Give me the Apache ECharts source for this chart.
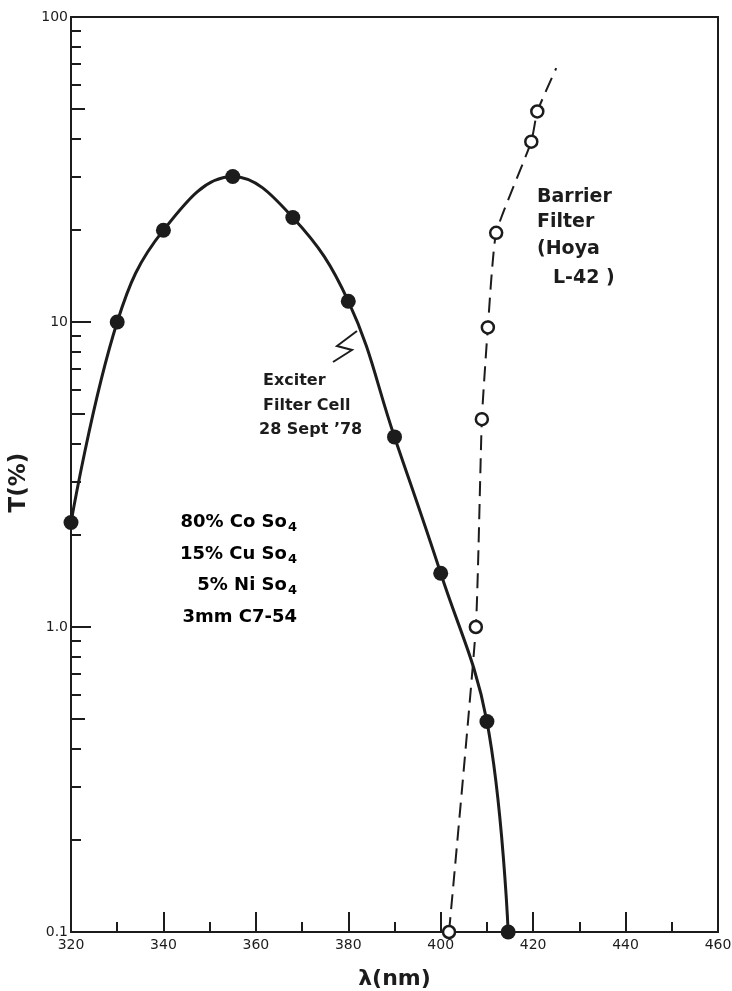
<!DOCTYPE html>
<html>
<head>
<meta charset="utf-8">
<script src="https://cdn.jsdelivr.net/npm/echarts@6/dist/echarts.min.js"></script>
<style>
  html, body { margin: 0; background: #fff; }
  #chart { width: 732px; height: 991px; }
</style>
</head>
<body>
<div id="chart"></div>
<script>
// exciter filter cell (filled dots)
const exciterNm = [320, 330, 340, 355, 368, 380, 390, 400, 410, 414.6];
const exciterT = [2.2, 10, 20, 30, 22, 11.7, 4.2, 1.5, 0.49, 0.1];
// barrier filter Hoya L-42 (open circles), last point is line end only
const barrierNm = [401.8, 407.6, 408.9, 410.2, 412, 419.6, 420.9, 425];
const barrierT = [0.1, 1.0, 4.8, 9.6, 19.6, 39, 49, 68];
const barrierMarked = [true, true, true, true, true, true, true, false];
// y ticks
const majorT = [0.1, 1, 10, 100];
const minorT = [0.2, 0.3, 0.4, 0.6, 0.7, 0.8, 0.9, 2, 3, 4, 6, 7, 8, 9, 20, 30, 40, 60, 70, 80, 90];
const midT = [0.5, 5, 50];
const mixture = [['80% Co So', '4'], ['15% Cu So', '4'], ['5% Ni So', '4'], ['3mm C7-54', '']];

const ink = '#1c1c1c';
const font = 'DejaVu Sans';

const chart = echarts.init(document.getElementById('chart'));

function minorAxis(values, len) {
  return {
    type: 'log', min: 0.1, max: 100, position: 'left', offset: 0,
    axisLine: { show: false },
    axisLabel: { show: false },
    splitLine: { show: false },
    axisTick: { show: true, inside: true, length: len, customValues: values,
      lineStyle: { color: ink, width: 2 } }
  };
}

const graphics = [];
function addText(x, y, text, size) {
  graphics.push({ type: 'text', x: x, y: y, z: 10,
    style: { text: text, fill: ink, font: 'bold ' + size + 'px "' + font + '"',
      align: 'left', verticalAlign: 'middle' } });
}
addText(537, 197, 'Barrier', 19);
addText(537, 222, 'Filter', 19);
addText(537, 249, '(Hoya', 19);
addText(553, 278, 'L-42 )', 19);
addText(263, 381, 'Exciter', 16);
addText(263, 406, 'Filter Cell', 16);
addText(259, 430, '28 Sept \u201978', 16);

const mixY = [522, 554, 585, 617];
mixture.forEach((m, i) => {
  graphics.push({ type: 'text', x: 297, y: mixY[i], z: 10,
    style: {
      text: '{a|' + m[0] + '}' + (m[1] ? '{s|' + m[1] + '}' : ''),
      align: 'right', verticalAlign: 'middle',
      rich: {
        a: { fontFamily: font, fontWeight: 'bold', fontSize: 18, color: ink, lineHeight: 24 },
        s: { fontFamily: font, fontWeight: 'bold', fontSize: 13, color: ink, padding: [11, 0, 0, 1], lineHeight: 24 }
      }
    } });
});
// zig-zag leader to the exciter curve
graphics.push({ type: 'polyline', z: 10,
  shape: { points: [[333, 362], [352, 350], [337, 346], [357, 331]] },
  style: { stroke: ink, lineWidth: 2, fill: null } });

chart.setOption({
  backgroundColor: '#fff',
  animation: false,
  grid: { left: 71, right: 14, top: 17, bottom: 59, show: true, outerBoundsMode: 'none',
    borderColor: ink, borderWidth: 2, backgroundColor: 'transparent' },
  xAxis: {
    type: 'value', min: 320, max: 460, interval: 20,
    name: '\u03bb(nm)', nameLocation: 'middle', nameGap: 36,
    nameTextStyle: { fontFamily: font, fontWeight: 'bold', fontSize: 22, color: ink },
    axisLine: { lineStyle: { color: ink, width: 2 } },
    axisTick: { inside: true, length: 20, lineStyle: { color: ink, width: 2 } },
    minorTick: { show: true, splitNumber: 2, length: 10, lineStyle: { color: ink, width: 2 } },
    splitLine: { show: false },
    axisLabel: { fontFamily: font, fontSize: 14, color: ink, margin: 6 }
  },
  yAxis: [
    {
      type: 'log', min: 0.1, max: 100, logBase: 10,
      name: 'T(%)', nameLocation: 'middle', nameGap: 38, nameRotate: 90,
      nameTextStyle: { fontFamily: font, fontWeight: 'bold', fontSize: 23, color: ink,
        padding: [0, 16, 0, 0] },
      axisLine: { lineStyle: { color: ink, width: 2 } },
      axisTick: { inside: true, length: 20, customValues: majorT, lineStyle: { color: ink, width: 2 } },
      splitLine: { show: false },
      axisLabel: { customValues: majorT, fontFamily: font, fontSize: 14, color: ink, margin: 3,
        formatter: v => v < 0.5 ? '0.1' : v < 5 ? '1.0' : String(Math.round(v)) }
    },
    minorAxis(minorT, 10),
    minorAxis(midT, 14)
  ],
  series: [
    {
      name: 'Exciter Filter Cell', type: 'line', yAxisIndex: 0,
      data: exciterNm.map((x, i) => [x, exciterT[i]]),
      smooth: 0.4, clip: false, z: 3,
      symbol: 'circle', symbolSize: 15,
      lineStyle: { color: ink, width: 3 },
      itemStyle: { color: ink }
    },
    {
      name: 'Barrier Filter', type: 'line', yAxisIndex: 0,
      data: barrierNm.map((x, i) => barrierMarked[i]
        ? { value: [x, barrierT[i]] }
        : { value: [x, barrierT[i]], symbol: 'none' }),
      smooth: 0.15, clip: false, z: 4, showAllSymbol: true,
      symbol: 'circle', symbolSize: 12,
      lineStyle: { color: ink, width: 2, type: [15, 8] },
      itemStyle: { color: '#fff', borderColor: ink, borderWidth: 2.5 }
    }
  ],
  graphic: graphics
});
</script>
</body>
</html>
